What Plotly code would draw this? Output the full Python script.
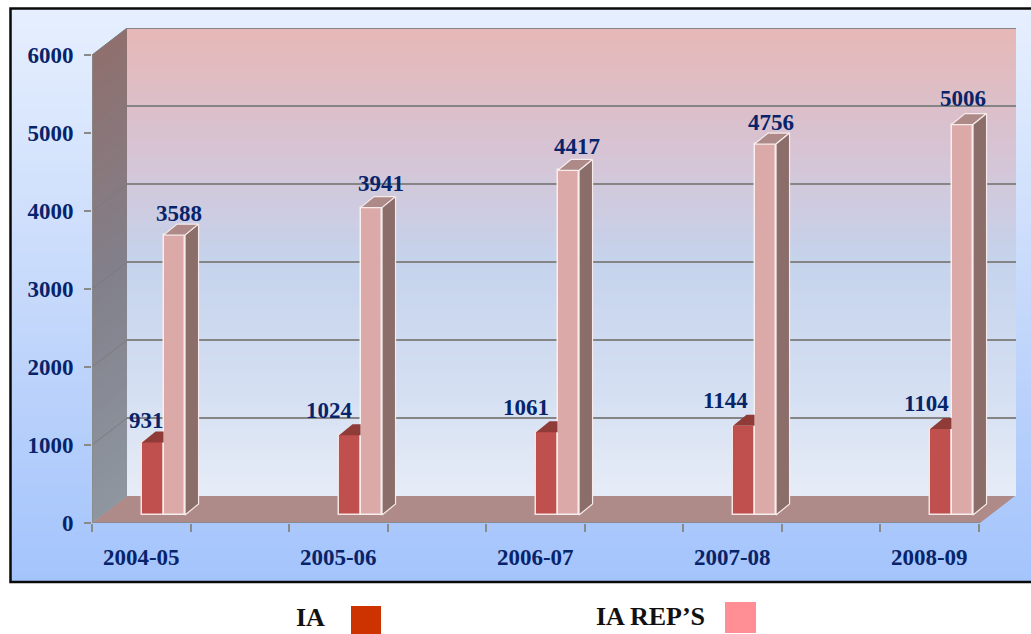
import plotly.graph_objects as go

categories = ["2004-05", "2005-06", "2006-07", "2007-08", "2008-09"]
ia_values = [931, 1024, 1061, 1144, 1104]
rep_values = [3588, 3941, 4417, 4756, 5006]
y_ticks = [0, 1000, 2000, 3000, 4000, 5000, 6000]

W, H = 1031, 634
LEFT, RIGHT, BOTTOM, TOP = 92, 1016, 523, 28
PX_X = 197.0            # px per category
PX_Y = 468 / 6000       # px per value unit
X0 = -0.25
x_end = X0 + (RIGHT - LEFT) / PX_X
y_end = (BOTTOM - TOP) / PX_Y
DX = 35 / PX_X          # full chart depth
DY = 27 / PX_Y
FRONT_END = X0 + 888 / PX_X
BAR_X = 0.8 / PX_X
BAR_W = 21.5 / PX_X
BAR_DX = 13.5 / PX_X    # bar depth
BAR_DY = 11 / PX_Y
BASE = 8 / PX_Y         # bars stand on the floor, slightly behind the front edge
NAVY = "#07246a"
SERIF = "Liberation Serif"


def lerp_stops(stops, t):
    for (t0, c0), (t1, c1) in zip(stops, stops[1:]):
        if t <= t1:
            f = (t - t0) / (t1 - t0)
            return "rgb(%d,%d,%d)" % tuple(round(a + (b - a) * f) for a, b in zip(c0, c1))
    return "rgb(%d,%d,%d)" % stops[-1][1]


shapes = []
# page background gradient
bg = [(0, (230, 239, 254)), (0.5, (198, 217, 251)), (1, (164, 196, 252))]
N = 80
for i in range(N):
    a = 8 + (582 - 8) * i / N
    b = 8 + (582 - 8) * (i + 2) / N
    shapes.append(dict(type="rect", xref="paper", yref="paper", x0=10 / W, x1=1.01,
                       y0=1 - a / H, y1=1 - min(b, 582) / H, line_width=0,
                       fillcolor=lerp_stops(bg, i / (N - 1)), layer="below"))
shapes.append(dict(type="rect", xref="paper", yref="paper", x0=10.5 / W, x1=1.01,
                   y0=1 - 8.5 / H, y1=1 - 582 / H, line=dict(color="#0a0a0a", width=2.5),
                   fillcolor="rgba(0,0,0,0)", layer="below"))

# back wall and side wall gradients
wall = [(0, (230, 184, 183)), (0.27, (214, 196, 213)), (0.5, (197, 211, 236)),
        (0.78, (212, 223, 242)), (1, (230, 236, 247))]
side = [(0, (143, 112, 110)), (0.5, (130, 128, 139)), (1, (142, 150, 160))]
M = 80
for i in range(M):
    t_hi = 6000 * (1 - i / M)
    t_lo = 6000 * (1 - (i + 2) / M)
    t_lo = max(t_lo, 0)
    shapes.append(dict(type="rect", xref="x", yref="y", x0=X0 + DX, x1=x_end,
                       y0=t_lo + DY, y1=t_hi + DY, line_width=0,
                       fillcolor=lerp_stops(wall, i / (M - 1)), layer="below"))
    shapes.append(dict(type="path", xref="x", yref="y", line_width=0, layer="below",
                       fillcolor=lerp_stops(side, i / (M - 1)),
                       path=f"M{X0},{t_hi} L{X0 + DX},{t_hi + DY} L{X0 + DX},{t_lo + DY} L{X0},{t_lo} Z"))

# floor
shapes.append(dict(type="path", xref="x", yref="y", line_width=0, layer="below", fillcolor="#ae8b88",
                   path=f"M{X0},0 L{FRONT_END},0 L{FRONT_END + DX},{DY} L{X0 + DX},{DY} Z"))
# grid lines
for v in y_ticks[1:]:
    shapes.append(dict(type="line", xref="x", yref="y", x0=X0 + DX, x1=x_end, y0=v + DY, y1=v + DY,
                       line=dict(color="#858585", width=2), layer="below"))
    shapes.append(dict(type="line", xref="x", yref="y", x0=X0, x1=X0 + DX, y0=v, y1=v + DY,
                       line=dict(color="#7b7b7b", width=1), layer="below"))
# legend swatches
shapes.append(dict(type="rect", xref="paper", yref="paper", x0=351 / W, x1=381 / W,
                   y0=1 - 606 / H, y1=0, fillcolor="#cc3300", line_width=0))
shapes.append(dict(type="rect", xref="paper", yref="paper", x0=725 / W, x1=756 / W,
                   y0=1 - 602 / H, y1=1 - 633 / H, fillcolor="#ff8f94", line_width=0))

fig = go.Figure()
xs = list(range(len(categories)))
fig.add_trace(go.Bar(x=xs, y=ia_values, base=BASE, width=BAR_W, offset=BAR_X,
                     marker=dict(color="#c0504d", line=dict(color="#f4e4e4", width=1.5)), showlegend=False))
fig.add_trace(go.Bar(x=xs, y=rep_values, base=BASE, width=BAR_W, offset=BAR_X + BAR_W,
                     marker=dict(color="#dba9a8", line=dict(color="#f8eeee", width=1.5)), showlegend=False))


def poly(px, py, fill, line="rgba(0,0,0,0)", width=0):
    fig.add_trace(go.Scatter(x=px, y=py, mode="lines", fill="toself", fillcolor=fill,
                             line=dict(color=line, width=width), hoverinfo="skip", showlegend=False))


for i, (a, b) in enumerate(zip(ia_values, rep_values)):
    ta = a + BASE
    tb = b + BASE
    s = i + BAR_X
    # IA top, cut where the taller bar begins
    poly([s, s + BAR_W, s + BAR_W, s + BAR_DX, s],
         [ta, ta, ta + BAR_DY, ta + BAR_DY, ta], "#8f3b38")
    l = s + BAR_W
    r = s + 2 * BAR_W
    # taller bar: top and side
    poly([l, r, r + BAR_DX, l + BAR_DX, l], [tb, tb, tb + BAR_DY, tb + BAR_DY, tb],
         "#ad8a88", "#f6eaea", 1.2)
    poly([r, r + BAR_DX, r + BAR_DX, r, r], [tb, tb + BAR_DY, BASE + BAR_DY, BASE, tb],
         "#8b6d6a", "#f6eaea", 1.2)

# label nudges in px from the bar's left edge / top
ia_nudge = [(5, 22), (-9, 25), (-9, 25), (-7, 25), (-3, 25)]
rep_nudge = [(16.5, 22), (21, 24), (20, 24), (17, 22), (12, 26)]
anns = []
for i, (v, (nx, ny)) in enumerate(zip(ia_values, ia_nudge)):
    anns.append(dict(x=i, y=v + BASE, text=f"<b>{v}</b>", xshift=nx, yshift=ny, showarrow=False, yanchor="middle",
                     font=dict(family=SERIF, size=23, color=NAVY)))
for i, (v, (nx, ny)) in enumerate(zip(rep_values, rep_nudge)):
    anns.append(dict(x=i + BAR_W, y=v + BASE, text=f"<b>{v}</b>", xshift=nx, yshift=ny, showarrow=False, yanchor="middle",
                     font=dict(family=SERIF, size=23, color=NAVY)))
for txt, cx, cy in [("IA", 310, 617), ("IA REP’S", 650, 616)]:
    anns.append(dict(xref="paper", yref="paper", x=cx / W, y=1 - cy / H, text=f"<b>{txt}</b>", showarrow=False,
                     xanchor="center", yanchor="middle",
                     font=dict(family=SERIF, size=26, color="#111111")))

fig.update_layout(
    width=W, height=H, autosize=False, margin=dict(l=0, r=0, t=0, b=0, pad=0), paper_bgcolor="white", plot_bgcolor="rgba(0,0,0,0)",
    shapes=shapes, annotations=anns, showlegend=False, bargap=0,
    xaxis=dict(domain=[LEFT / W, RIGHT / W], range=[X0, x_end], tickmode="array", tickvals=xs,
               ticktext=[f"<b>{c}</b>" for c in categories], ticks="", showgrid=False, zeroline=False,
               showline=False, ticklabelstandoff=18, automargin=False,
               tickfont=dict(family=SERIF, size=23, color=NAVY),
               minor=dict(tickmode="array", tickvals=[X0 + 0.5 * k for k in range(10)], ticks="outside", ticklen=8,
                          tickcolor="#8a8a8a", tickwidth=2, showgrid=False)),
    yaxis=dict(domain=[1 - BOTTOM / H, 1 - TOP / H], range=[0, y_end], tickmode="array", tickvals=y_ticks,
               ticktext=[f"<b>{v}</b>" for v in y_ticks], ticks="outside", ticklen=7, tickcolor="#8a8a8a", tickwidth=2,
               showgrid=False, zeroline=False, showline=False, ticklabelstandoff=6, automargin=False,
               tickfont=dict(family=SERIF, size=23, color=NAVY)),
)
# axis lines limited to the front plane
fig.add_shape(type="line", xref="x", yref="y", x0=X0, x1=FRONT_END, y0=0, y1=0, line=dict(color="#8a8a8a", width=2))
fig.add_shape(type="line", xref="x", yref="y", x0=X0, x1=X0, y0=0, y1=6000, line=dict(color="#8a8a8a", width=1.5))

fig.write_html("out.html", config=dict(displayModeBar=False, responsive=False), default_width=W, default_height=H,
               post_script="document.body.style.margin='0';document.documentElement.style.overflow='hidden';")
